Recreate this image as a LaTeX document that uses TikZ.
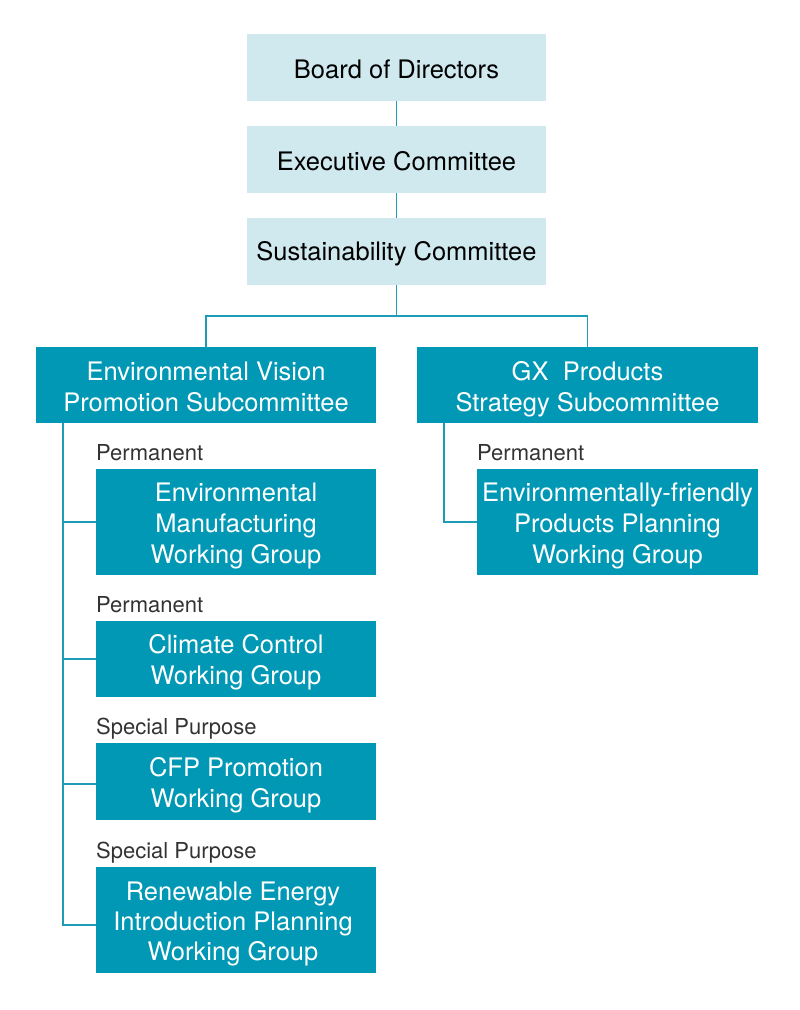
\documentclass[tikz,border=0pt]{standalone}
\usepackage{fontspec}
\setmainfont{TeX Gyre Heros}
\begin{document}
\begin{tikzpicture}[x=1pt,y=-1pt,
  lightbg/.style={fill=lightbox, draw=none, inner sep=0pt},
  darkbg/.style={fill=darkbox, draw=none, inner sep=0pt},
  ltext/.style={inner sep=0pt, align=center, text=black, font=\fontsize{25.5}{31}\selectfont, yshift=-2pt},
  dtext/.style={inner sep=0pt, align=center, text=white, font=\fontsize{25.5}{31}\selectfont, yshift=-3.5pt},
  tag/.style={anchor=base west, inner sep=0pt, text=black!80, font=\fontsize{22}{24}\selectfont},
  link/.style={draw=linecol, line width=1.4pt}]
\definecolor{lightbox}{HTML}{CFE9EF}
\definecolor{darkbox}{HTML}{0098B4}
\definecolor{linecol}{HTML}{1E9CB6}
\useasboundingbox (0,0) rectangle (800,1010);
% top boxes
\node[lightbg, minimum width=299pt, minimum height=67pt] (board) at (396.5,67.5) {};
\node[ltext] (boardt) at (board.center) {Board of Directors};
\node[lightbg, minimum width=299pt, minimum height=67pt] (exec) at (396.5,159.5) {};
\node[ltext] (exect) at (exec.center) {Executive Committee};
\node[lightbg, minimum width=299pt, minimum height=67pt] (sust) at (396.5,251.5) {};
\node[ltext] (sustt) at (sust.center) {Sustainability Committee};
% subcommittees
\node[darkbg, minimum width=340pt, minimum height=76pt] (evp) at (206,385) {};
\node[dtext, yshift=2pt] (evpt) at (evp.center) {Environmental Vision\\Promotion Subcommittee};
\node[darkbg, minimum width=341pt, minimum height=76pt] (gx) at (587.5,385) {};
\node[dtext, yshift=-0.5pt] (gxt) at (gx.center) {GX\ \ Products\\Strategy Subcommittee};
% working groups
\node[darkbg, minimum width=280pt, minimum height=106pt] (emwg) at (236,522) {};
\node[dtext] (emwgt) at (emwg.center) {Environmental\\Manufacturing\\Working Group};
\node[darkbg, minimum width=280pt, minimum height=76pt] (ccwg) at (236,659) {};
\node[dtext] (ccwgt) at (ccwg.center) {Climate Control\\Working Group};
\node[darkbg, minimum width=280pt, minimum height=77pt] (cfp) at (236,781.5) {};
\node[dtext] (cfpt) at (cfp.center) {CFP Promotion\\Working Group};
\node[darkbg, minimum width=280pt, minimum height=106pt] (rewg) at (236,920) {};
\node[dtext, xshift=-3pt] (rewgt) at (rewg.center) {Renewable Energy\\[-1pt]Introduction Planning\\[-1pt]Working Group};
\node[darkbg, minimum width=281pt, minimum height=106pt] (efp) at (617.5,522) {};
\node[dtext] (efpt) at (efp.center) {Environmentally-friendly\\Products Planning\\Working Group};
% tags
\node[tag] (t1) at (96,460) {Permanent};
\node[tag] (t2) at (96,612) {Permanent};
\node[tag] (t3) at (96,734) {Special Purpose};
\node[tag] (t4) at (96,858) {Special Purpose};
\node[tag] (t5) at (477,460) {Permanent};
% connectors
\draw[link] (board.south) -- (exec.north);
\draw[link] (exec.south) -- (sust.north);
\coordinate (split) at (396.5,316);
\draw[link] (sust.south) -- (split);
\draw[link] (evp.north) |- (split) -| (gx.north);
\coordinate (ltop) at (63,423);
\coordinate (lbot) at (63,925);
\draw[link] (ltop) -- (lbot) -- (rewg.west |- lbot);
\draw[link] (63,522) -- (emwg.west);
\draw[link] (63,659) -- (ccwg.west);
\draw[link] (63,784) -- (cfp.west |- 0,784);
\coordinate (rtop) at (444,423);
\draw[link] (rtop) |- (efp.west);
\end{tikzpicture}
\end{document}
